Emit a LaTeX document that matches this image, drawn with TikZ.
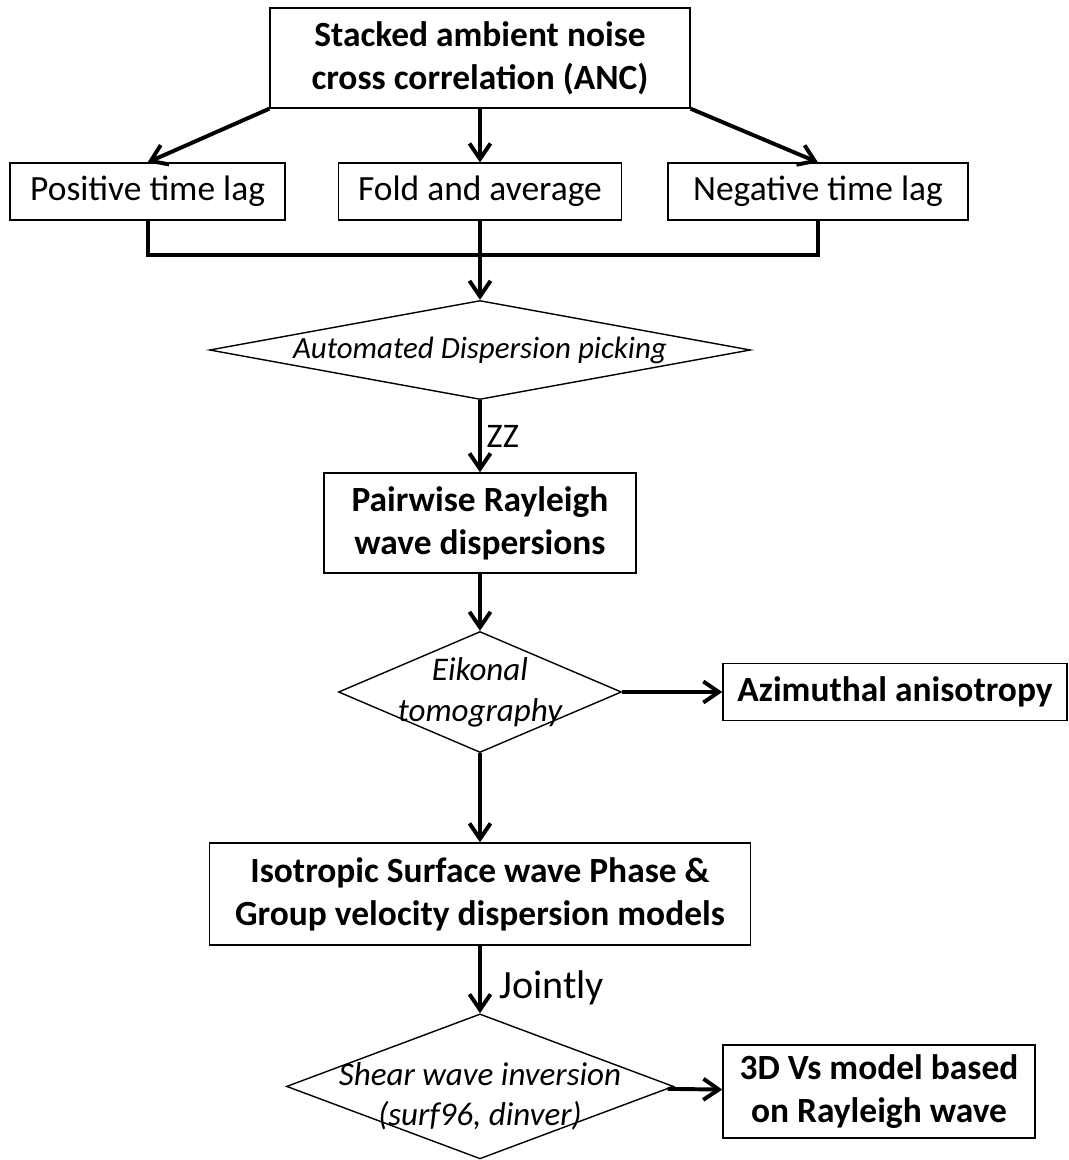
\documentclass[tikz,border=0pt]{standalone}
\usepackage{fontspec}
\setmainfont{Carlito}
\usetikzlibrary{arrows.meta,positioning,shapes.geometric,calc}

\begin{document}
\begin{tikzpicture}[
  box/.style={rectangle, draw, line width=1pt, align=center, inner sep=0pt, font=\fontsize{25.2}{30.5}\selectfont},
  mainbox/.style={box, font=\fontsize{25.2}{30.5}\selectfont\bfseries},
  decision/.style={diamond, draw, line width=1pt, inner sep=0pt},
  dtext/.style={align=center, inner sep=0pt, font=\fontsize{23.5}{29}\selectfont\itshape},
  edge/.style={-{Straight Barb[length=11pt,width=15pt]}, line width=2.8pt},
  link/.style={line width=2.8pt}
]
\useasboundingbox (-12,0) rectangle (14.725,-29);

\node[mainbox, minimum width=10.5cm, minimum height=2.5cm] (anc) at (0,-1.45) {Stacked ambient noise\\cross correlation (ANC)};
\node[box, minimum width=6.875cm, minimum height=1.425cm] (pos) at (-8.31,-4.79) {Positive time lag};
\node[box, minimum width=7.075cm, minimum height=1.425cm] (fold) at (0,-4.79) {Fold and average};
\node[box, minimum width=7.5cm, minimum height=1.425cm] (neg) at (8.45,-4.79) {Negative time lag};
\coordinate (merge) at (0,-6.375);
\node[decision, minimum width=13.525cm, minimum height=2.475cm,
  label={[dtext, font=\fontsize{22}{27}\selectfont\itshape]center:{Automated Dispersion picking}}] (pick) at (0,-8.75) {};
\node[mainbox, minimum width=7.8cm, minimum height=2.5cm] (pair) at (0,-13.075) {Pairwise Rayleigh\\wave dispersions};
\node[decision, minimum width=7.075cm, minimum height=3.025cm,
  label={[dtext]center:{Eikonal\\tomography}}] (eik) at (0,-17.3) {};
\node[mainbox, minimum width=8.6cm, minimum height=1.425cm] (azi) at (10.375,-17.3) {Azimuthal anisotropy};
\node[mainbox, minimum width=13.525cm, minimum height=2.55cm] (iso) at (0,-22.35) {Isotropic Surface wave Phase \&\\Group velocity dispersion models};
\node[decision, minimum width=9.675cm, minimum height=3.625cm,
  label={[dtext, yshift=-0.25cm]center:{Shear wave inversion\\(surf96, dinver)}}] (shear) at (0,-27.16) {};
\node[mainbox, minimum width=7.8cm, minimum height=2.325cm] (vs) at (9.975,-27.29) {3D Vs model based\\on Rayleigh wave};

% splitting the ANC
\draw[edge] (anc.south west) -- (pos.north);
\draw[edge] (anc) -- (fold);
\draw[edge] (anc.south east) -- (neg.north);

% merging back
\draw[link] (pos.south) |- (merge) -| (neg.south);
\draw[edge] (fold) -- (pick);

\draw[edge] (pick) -- node[right, font=\fontsize{24.5}{30}\selectfont] {ZZ} (pair);
\draw[edge] (pair) -- (eik);
\draw[edge] (eik) -- (azi);
\draw[edge] (eik) -- (iso);
\draw[edge] (iso) -- node[right, xshift=9pt, yshift=-6pt, font=\fontsize{28.5}{34}\selectfont] {Jointly} (shear);
\draw[edge] (shear) -- (vs);
\end{tikzpicture}
\end{document}
